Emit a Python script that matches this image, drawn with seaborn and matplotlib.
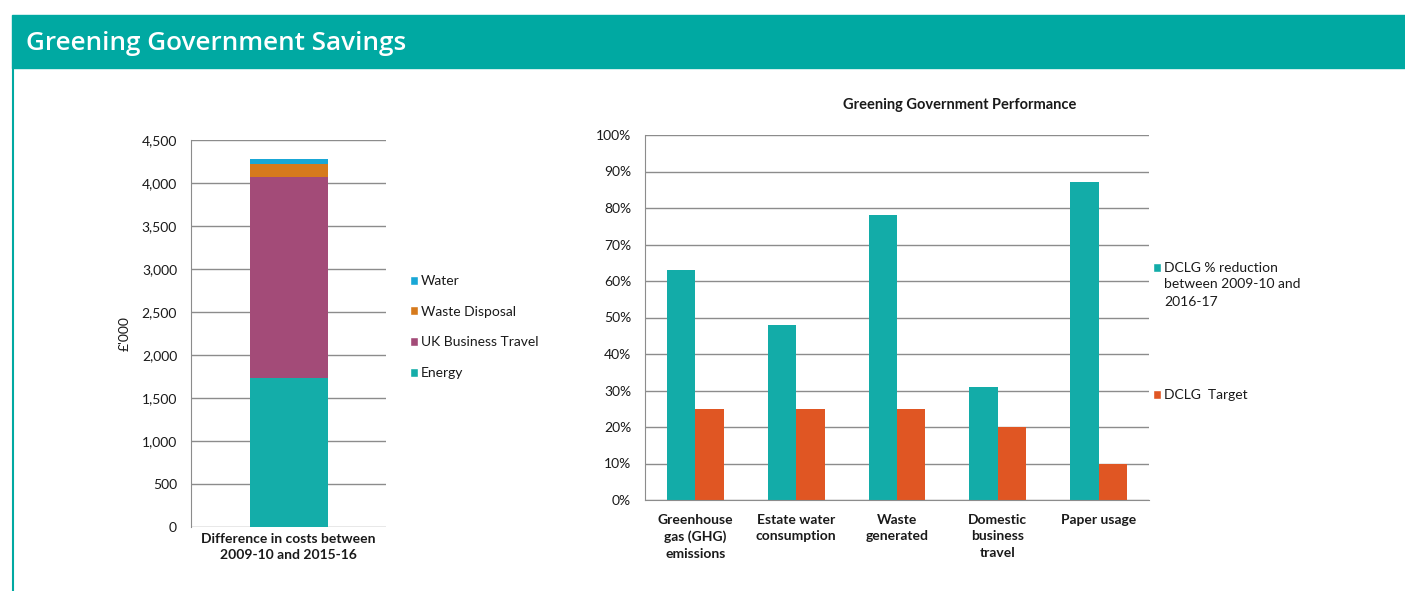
import matplotlib
matplotlib.use("Agg")
import matplotlib.pyplot as plt
from matplotlib.patches import Patch, Rectangle
from matplotlib.lines import Line2D
from matplotlib.ticker import FuncFormatter, FixedLocator
import seaborn as sns
import pandas as pd

# ---- data ----
cost_category = ["Difference in costs between\n2009-10 and 2015-16"]
cost_components = ["Energy", "UK Business Travel", "Waste Disposal", "Water"]
cost_values = [1730, 2335, 160, 50]

perf_categories = ["Greenhouse\ngas (GHG)\nemissions", "Estate water\nconsumption",
                   "Waste\ngenerated", "Domestic\nbusiness\ntravel", "Paper usage"]
perf_reduction = [63, 48, 78, 31, 87]
perf_target = [25, 25, 25, 20, 10]
perf_series = ["DCLG % reduction", "DCLG  Target"]
perf_series_extra = "between 2009-10 and\n2016-17"

# ---- style ----
sns.set_style("white")
plt.rcParams["font.family"] = ["Lato", "DejaVu Sans"]

W, H = 1405, 591
fig = plt.figure(figsize=(W / 100, H / 100), dpi=100)

BANNER = "#00a9a2"
cost_colors = ["#14ada9", "#a34b78", "#d67a1c", "#19a7d6"]
perf_colors = ["#13aca8", "#e05623"]
GRID = "#8c8c8c"
TXT = "#1a1a1a"
FS = 10

def fx(px):
    return px / W

def fy(py):
    return 1 - py / H

# banner and left border
fig.patches.append(Rectangle((fx(12), fy(68)), fx(W - 12), fy(15) - fy(68),
                             transform=fig.transFigure, color=BANNER, zorder=0))
fig.lines.append(Line2D([fx(12.5), fx(12.5)], [fy(68), 0], transform=fig.transFigure,
                        color=BANNER, lw=1.5))
fig.text(fx(26), fy(44), "Greening Government Savings", color="white",
         fontsize=18.8, fontweight="semibold", va="center", ha="left",
         family=["Open Sans", "DejaVu Sans"])

# ---- left stacked bar ----
ax1 = fig.add_axes([fx(191), fy(527), fx(195), fy(140) - fy(527)])
bottom = 0
for comp, val, col in zip(cost_components, cost_values, cost_colors):
    sns.barplot(x=cost_category, y=[val], bottom=bottom, color=col, width=0.4,
                ax=ax1, saturation=1, linewidth=0)
    bottom += val
ax1.set_ylim(0, 4500)
ax1.set_xlim(-0.5, 0.5)
ax1.set_yticks(range(0, 4501, 500))
ax1.yaxis.set_major_formatter(FuncFormatter(lambda v, p: f"{int(v):,}"))
ax1.grid(axis="y", color=GRID, lw=1)
ax1.set_axisbelow(True)
for s in ["top", "right", "bottom"]:
    ax1.spines[s].set_visible(False)
ax1.spines["left"].set_color(GRID)
ax1.tick_params(axis="y", length=4, color=GRID, labelsize=FS, labelcolor=TXT, pad=6)
ax1.tick_params(axis="x", length=0, labelsize=FS, labelcolor=TXT, pad=4)
for lab in ax1.get_xticklabels():
    lab.set_fontweight("bold")
    lab.set_linespacing(1.45)
ax1.set_xlabel("")
ax1.set_ylabel("£'000", fontsize=FS, color=TXT, labelpad=8)

handles1 = [Patch(facecolor=c, label=l) for l, c in
            zip(cost_components[::-1], cost_colors[::-1])]
fig.legend(handles=handles1, loc="upper left", bbox_to_anchor=(fx(410), fy(275)),
           frameon=False, fontsize=FS, handlelength=0.6, handleheight=0.6,
           handletextpad=0.2, labelspacing=1.35, borderaxespad=0, borderpad=0,
           labelcolor=TXT)

# ---- right grouped bars ----
df = pd.DataFrame({
    "category": perf_categories * 2,
    "value": perf_reduction + perf_target,
    "series": [perf_series[0]] * len(perf_categories) + [perf_series[1]] * len(perf_categories),
})
ax2 = fig.add_axes([fx(645), fy(500), fx(504), fy(135) - fy(500)])
sns.barplot(data=df, x="category", y="value", hue="series", palette=perf_colors,
            width=0.565, ax=ax2, saturation=1, linewidth=0, legend=False)
ax2.set_ylim(0, 100)
ax2.set_xlim(-0.5, 4.5)
ax2.set_yticks(range(0, 101, 10))
ax2.yaxis.set_major_formatter(FuncFormatter(lambda v, p: f"{int(v)}%"))
ax2.grid(axis="y", color=GRID, lw=1)
ax2.set_axisbelow(True)
for s in ["top", "right"]:
    ax2.spines[s].set_visible(False)
ax2.spines["left"].set_color(GRID)
ax2.spines["bottom"].set_color(GRID)
ax2.tick_params(axis="y", length=4, color=GRID, labelsize=FS, labelcolor=TXT, pad=6)
ax2.tick_params(axis="x", which="major", length=0, labelsize=FS, labelcolor=TXT, pad=10)
ax2.xaxis.set_minor_locator(FixedLocator([-0.5, 0.5, 1.5, 2.5, 3.5, 4.5]))
ax2.tick_params(axis="x", which="minor", length=4, color=GRID)
for lab in ax2.get_xticklabels():
    lab.set_fontweight("bold")
    lab.set_verticalalignment("top")
    lab.set_linespacing(1.45)
ax2.set_xlabel("")
ax2.set_ylabel("")
fig.text(fx(960), fy(105), "Greening Government Performance", fontsize=10.5,
         fontweight="bold", color=TXT, ha="center", va="center")

handles2 = [Patch(facecolor=c, label=l) for l, c in zip(perf_series, perf_colors)]
fig.legend(handles=handles2[:1], loc="upper left", bbox_to_anchor=(fx(1153), fy(262)),
           frameon=False, fontsize=FS, handlelength=0.6, handleheight=0.6,
           handletextpad=0.2, borderaxespad=0, borderpad=0, labelcolor=TXT)
fig.text(fx(1164), fy(278), perf_series_extra, fontsize=FS, color=TXT,
         ha="left", va="top", linespacing=1.55)
fig.legend(handles=handles2[1:], loc="upper left", bbox_to_anchor=(fx(1153), fy(389)),
           frameon=False, fontsize=FS, handlelength=0.6, handleheight=0.6,
           handletextpad=0.2, borderaxespad=0, borderpad=0, labelcolor=TXT)

fig.savefig("out.png", dpi=100)
